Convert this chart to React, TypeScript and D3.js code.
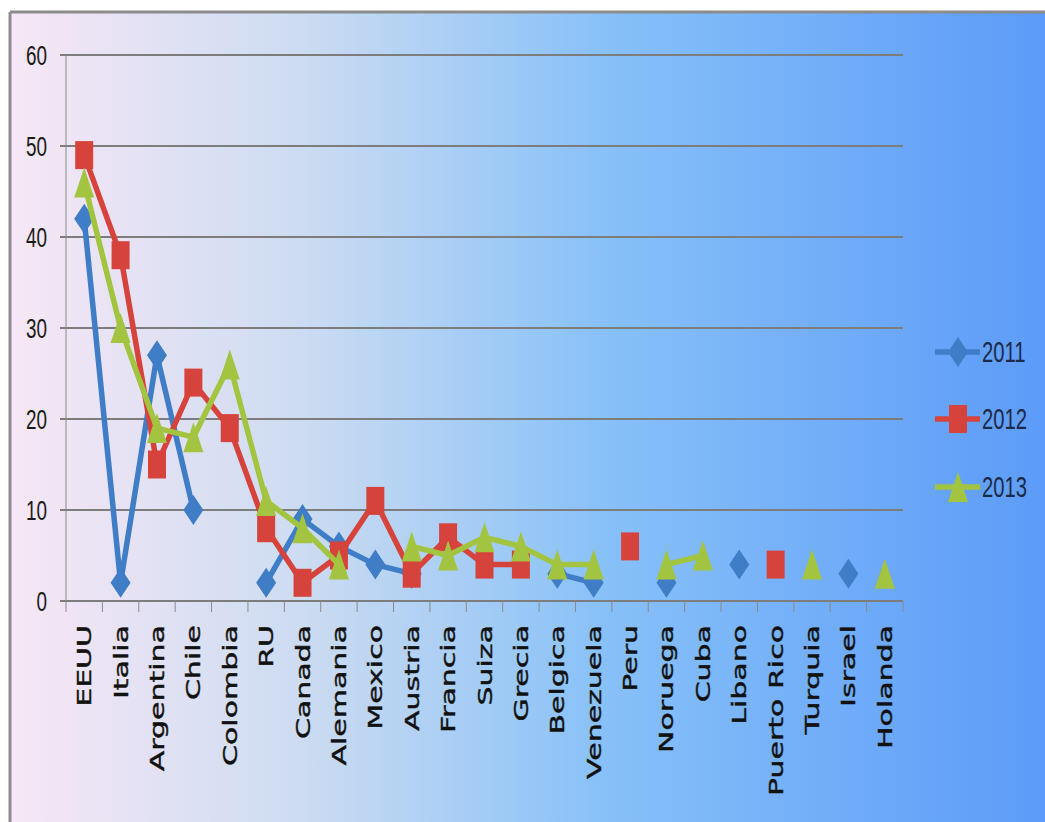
import React from "react";
import * as d3 from "d3";

const categories = ["EEUU","Italia","Argentina","Chile","Colombia","RU","Canada","Alemania","Mexico","Austria","Francia","Suiza","Grecia","Belgica","Venezuela","Peru","Noruega","Cuba","Libano","Puerto Rico","Turquia","Israel","Holanda"];
const values2011: (number|null)[] = [42,2,27,10,null,2,9,6,4,3,null,null,null,3,2,null,2,null,4,null,null,3,null];
const values2012: (number|null)[] = [49,38,15,24,19,8,2,5,11,3,7,4,4,null,null,6,null,null,null,4,null,null,null];
const values2013: (number|null)[] = [46,30,19,18,26,11,8,4,null,6,5,7,6,4,4,null,4,5,null,null,4,null,3];
const yTicks = [0,10,20,30,40,50,60];
const seriesNames = ["2011","2012","2013"];

const W = 1045, H = 822;
const plot = { left: 66, right: 903, top: 55, bottom: 601 };

const colors = ["#3f7dc6", "#d6433c", "#a3c440"];
const shapes = ["diamond", "square", "triangle"];

function markerPath(shape: string, cx: number, cy: number): string {
  if (shape === "diamond") {
    const w = 10, h = 15;
    return `M${cx},${cy - h}L${cx + w},${cy}L${cx},${cy + h}L${cx - w},${cy}Z`;
  }
  if (shape === "square") {
    const w = 9, h = 14;
    return `M${cx - w},${cy - h}L${cx + w},${cy - h}L${cx + w},${cy + h}L${cx - w},${cy + h}Z`;
  }
  const w = 10, h = 15;
  return `M${cx},${cy - h}L${cx + w},${cy + h}L${cx - w},${cy + h}Z`;
}

export default function App() {
  const x = d3.scaleBand<string>().domain(categories).range([plot.left, plot.right]).paddingInner(0).paddingOuter(0);
  const y = d3.scaleLinear().domain([0, 60]).range([plot.bottom, plot.top]);
  const allSeries = [values2011, values2012, values2013];
  const cx = (c: string) => (x(c) as number) + x.bandwidth() / 2;

  const line = d3.line<number | null>()
    .defined((d) => d !== null)
    .x((_d, i) => cx(categories[i]))
    .y((d) => y(d as number));

  const tickXs = d3.range(categories.length + 1).map((i) => plot.left + i * x.bandwidth());
  const legendY = [352, 419, 487];

  return (
    <svg width={W} height={H} style={{ position: "absolute", left: 0, top: 0 }}>
      <defs>
        <linearGradient id="bg" x1="0" y1="0" x2="1" y2="0">
          <stop offset="0" stopColor="#f7e7f6" />
          <stop offset="0.28" stopColor="#cddcf1" />
          <stop offset="0.57" stopColor="#88c1f8" />
          <stop offset="1" stopColor="#5c9bf9" />
        </linearGradient>
      </defs>
      <rect x={0} y={0} width={W} height={H} fill="#ffffff" />
      <rect x={10} y={12} width={W - 10} height={H - 12} fill="url(#bg)" />
      <line x1={10} y1={12} x2={W} y2={12} stroke="#8c8c8c" strokeWidth={3} />
      <line x1={10} y1={12} x2={10} y2={H} stroke="#8c8c8c" strokeWidth={3} />

      {/* gridlines */}
      {yTicks.map((t) => (
        <line key={t} x1={plot.left - 6} x2={plot.right} y1={y(t)} y2={y(t)} stroke="#7d7d7d" strokeWidth={2} />
      ))}
      <line x1={plot.left} x2={plot.left} y1={plot.top} y2={plot.bottom} stroke="#8a8a8a" strokeWidth={1} />
      {tickXs.map((tx, i) => (
        <line key={i} x1={tx} x2={tx} y1={plot.bottom} y2={plot.bottom + 11} stroke="#8a8a8a" strokeWidth={1} />
      ))}

      {/* y labels */}
      {yTicks.map((t) => (
        <text key={t} transform={`translate(47,${y(t) + 10}) scale(0.7,1)`} textAnchor="end"
          fontFamily="Liberation Sans, Arial, sans-serif" fontSize={27} fill="#1a1a1a">{t}</text>
      ))}

      {/* x labels */}
      {categories.map((c) => (
        <text key={c} transform={`translate(${cx(c) + 7},625) rotate(-90) scale(1,0.64)`} textAnchor="end"
          fontFamily="DejaVu Sans, sans-serif" fontSize={30} fill="#111" stroke="#111" strokeWidth={0.6}>{c}</text>
      ))}

      {/* series */}
      {allSeries.map((vals, si) => (
        <g key={si}>
          <path d={line(vals) || ""} fill="none" stroke={colors[si]} strokeWidth={5.5} strokeLinejoin="round" />
          {vals.map((v, i) => v === null ? null : (
            <path key={i} d={markerPath(shapes[si], cx(categories[i]), y(v))} fill={colors[si]} />
          ))}
        </g>
      ))}

      {/* legend */}
      {seriesNames.map((n, si) => (
        <g key={n}>
          <line x1={935} x2={980} y1={legendY[si]} y2={legendY[si]} stroke={colors[si]} strokeWidth={5.5} />
          <path d={markerPath(shapes[si], 958, legendY[si])} fill={colors[si]} />
          <text transform={`translate(982,${legendY[si] + 10}) scale(0.7,1)`} fontFamily="Liberation Sans, Arial, sans-serif"
            fontSize={29} fill="#1c2a4a">{n}</text>
        </g>
      ))}
    </svg>
  );
}
